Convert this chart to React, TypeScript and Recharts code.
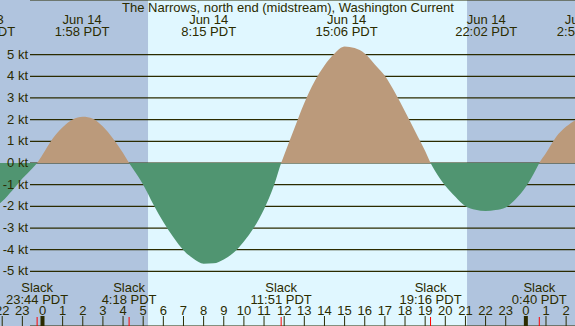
import { ComposedChart, Area, XAxis, YAxis, CartesianGrid, ReferenceArea, ReferenceLine } from "recharts"

// hours after Jun 14 00:00 PDT, current in knots (flood +, ebb -)
const hours = [
  -2.5, -2, -1.5, -1, -0.5, 0, 0.5, 1, 1.5, 2, 2.5, 3, 3.5, 4, 4.5, 5, 5.5, 6, 6.5, 7, 7.5, 8, 8.5, 9, 9.5,
  10, 10.5, 11, 11.5, 12, 12.5, 13, 13.5, 14, 14.5, 15, 15.5, 16, 16.5, 17, 17.5, 18, 18.5, 19, 19.5, 20,
  20.5, 21, 21.5, 22, 22.5, 23, 23.5, 24, 24.5, 25, 25.5, 26, 26.5,
]
const knots = [
  -2.1, -1.77, -1.27, -0.72, -0.24, 0.38, 1.12, 1.65, 2.01, 2.13, 2.04, 1.68, 1.13, 0.46, -0.28, -1.0, -1.9,
  -2.72, -3.42, -4.02, -4.42, -4.65, -4.63, -4.45, -4.13, -3.62, -2.98, -2.13, -1.02, 0.37, 1.58, 2.77, 3.75,
  4.5, 5.05, 5.37, 5.3, 5.05, 4.55, 4.02, 3.25, 2.38, 1.47, 0.55, -0.38, -1.05, -1.56, -2.0, -2.16, -2.22,
  -2.17, -2.05, -1.66, -1.1, -0.3, 0.46, 1.2, 1.68, 2.0,
]

const slackHours = [-0.267, 4.3, 11.85, 19.267, 24.667]
const slackTimes = ["23:44 PDT", "4:18 PDT", "11:51 PDT", "19:16 PDT", "0:40 PDT"]

const maxHours = [-2.9, 1.967, 8.25, 15.1, 22.033, 26.9]
const maxDates = ["Jun 13", "Jun 14", "Jun 14", "Jun 14", "Jun 14", "Jun 15"]
const maxTimes = ["21:06 PDT", "1:58 PDT", "8:15 PDT", "15:06 PDT", "22:02 PDT", "2:54 PDT"]

const hourTicks = [-2, -1, 0, 1, 2, 3, 4, 5, 6, 7, 8, 9, 10, 11, 12, 13, 14, 15, 16, 17, 18, 19, 20, 21, 22, 23, 24, 25, 26]
const ktTicks = [-5, -4, -3, -2, -1, 0, 1, 2, 3, 4, 5]

const sunrise = 5.24
const sunset = 21.08

const title = "The Narrows, north end (midstream), Washington Current"

const INK = "#2b2b00"
const DAY = "#e0f7ff"
const NIGHT = "#b0c4de"
const FLOOD = "#bb9a7b"
const EBB = "#509571"
const FONT = "'Liberation Sans', Arial, sans-serif"

const data = [
  ...hours.map((h, i) => ({ h, v: knots[i] })),
  ...slackHours.map((h) => ({ h, v: 0 })),
].sort((a, b) => a.h - b.h)

const vMax = Math.max(...knots)
const vMin = Math.min(...knots)
const zeroOffset = vMax / (vMax - vMin)

const HourTick = (p: any) => {
  const h = p.payload.value
  const label = ((h % 24) + 24) % 24
  return (
    <g>
      <text x={p.x} y={315} textAnchor="middle" fontSize={13} fontFamily={FONT} fill={INK}>
        {label}
      </text>
      <line x1={p.x} x2={p.x} y1={316} y2={326} stroke={INK} strokeWidth={label === 0 ? 4 : 1} />
    </g>
  )
}

const KtTick = (p: any) => (
  <text x={28} y={p.y + 4} textAnchor="end" fontSize={13} fontFamily={FONT} fill={INK}>
    {p.payload.value} kt
  </text>
)

export default function App() {
  return (
    <div style={{ position: "absolute", left: 0, top: 0, width: 575, height: 326, background: DAY }}>
      <ComposedChart width={575} height={326} data={data} margin={{ top: 0, right: 0, bottom: 0, left: 0 }}>
        <defs>
          <linearGradient id="tideFill" x1="0" y1="0" x2="0" y2="1">
            <stop offset={zeroOffset} stopColor={FLOOD} />
            <stop offset={zeroOffset} stopColor={EBB} />
          </linearGradient>
        </defs>
        <XAxis
          type="number"
          dataKey="h"
          domain={[-2.11, 26.44]}
          ticks={hourTicks}
          interval={0}
          tick={HourTick}
          tickLine={false}
          axisLine={false}
          mirror
          height={30}
          allowDataOverflow
        />
        <YAxis
          type="number"
          domain={[-7.52, 7.52]}
          ticks={ktTicks}
          interval={0}
          tick={KtTick}
          tickLine={false}
          axisLine={false}
          mirror
          width={40}
          allowDataOverflow
        />
        <ReferenceArea x2={sunrise} fill={NIGHT} fillOpacity={1} stroke="none" zIndex={-200} />
        <ReferenceArea x1={sunset} fill={NIGHT} fillOpacity={1} stroke="none" zIndex={-200} />
        <CartesianGrid
          vertical={false}
          horizontal={(p: any) => (
            <line key={p.key} x1={30} x2={p.x2} y1={p.y1} y2={p.y2} stroke={INK} strokeWidth={1.2} />
          )}
        />
        <Area
          type="monotone"
          dataKey="v"
          baseValue={0}
          fill="url(#tideFill)"
          fillOpacity={1}
          stroke="none"
          isAnimationActive={false}
          dot={false}
          activeDot={false}
        />
        {maxHours.map((h, i) => (
          <ReferenceLine
            key={`m${i}`}
            x={h}
            stroke="none"
            ifOverflow="visible"
            label={(p: any) => (
              <g fontSize={13} fontFamily={FONT} fill={INK} textAnchor="middle">
                <text x={p.viewBox.x} y={24}>{maxDates[i]}</text>
                <text x={p.viewBox.x} y={36}>{maxTimes[i]}</text>
              </g>
            )}
          />
        ))}
        {slackHours.map((h, i) => (
          <ReferenceLine
            key={`s${i}`}
            x={h}
            stroke="none"
            label={(p: any) => (
              <g fontSize={13} fontFamily={FONT} fill={INK} textAnchor="middle">
                <text x={p.viewBox.x} y={292}>Slack</text>
                <text x={p.viewBox.x} y={304}>{slackTimes[i]}</text>
                <line x1={p.viewBox.x} x2={p.viewBox.x} y1={317} y2={326} stroke="#ff0000" />
              </g>
            )}
          />
        ))}
        <text x={288} y={12} textAnchor="middle" fontSize={13} fontFamily={FONT} fill={INK}>
          {title}
        </text>
      </ComposedChart>
    </div>
  )
}
